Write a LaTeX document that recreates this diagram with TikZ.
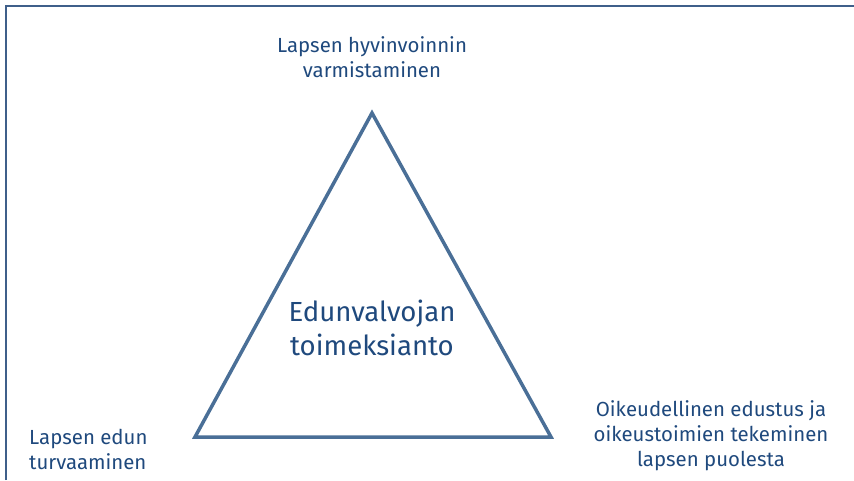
\documentclass[tikz,border=0pt]{standalone}
\usepackage{fontspec}
\setmainfont{Fira Sans}
\usepackage{xcolor}
\definecolor{textblue}{HTML}{1F497D}
\definecolor{lineblue}{HTML}{4A6F97}
\definecolor{frameblue}{HTML}{3F5F8A}

\begin{document}
\begin{tikzpicture}[x=1pt,y=-1pt,
    label/.style={text=textblue,font=\fontsize{20.4}{25}\selectfont,align=center,inner sep=0pt},
    biglabel/.style={text=textblue,font=\fontsize{27.6}{34}\selectfont,align=center,inner sep=0pt}]
                \useasboundingbox (0,0) rectangle (854,480);
                \draw[frameblue,line width=2pt] (5.5,480) -- (5.5,5.5) -- (854,5.5);

                \coordinate (apex) at (372,113);
                \coordinate (left) at (195,437);
                \coordinate (right) at (551,437);
                \draw[lineblue,line width=3.5pt,line join=miter] (apex) -- (left) -- (right) -- cycle;

                \node[label] (top) at (372,57) {Lapsen hyvinvoinnin\\varmistaminen};
                \node[biglabel] (mid) at (372,328) {Edunvalvojan\\toimeksianto};
                \node[label,align=left,anchor=west] (turva) at (29,449) {Lapsen edun\\turvaaminen};
                \node[label] (edustus) at (711,436) {Oikeudellinen edustus ja\\oikeustoimien tekeminen\\lapsen puolesta};
            \end{tikzpicture}
\end{document}
